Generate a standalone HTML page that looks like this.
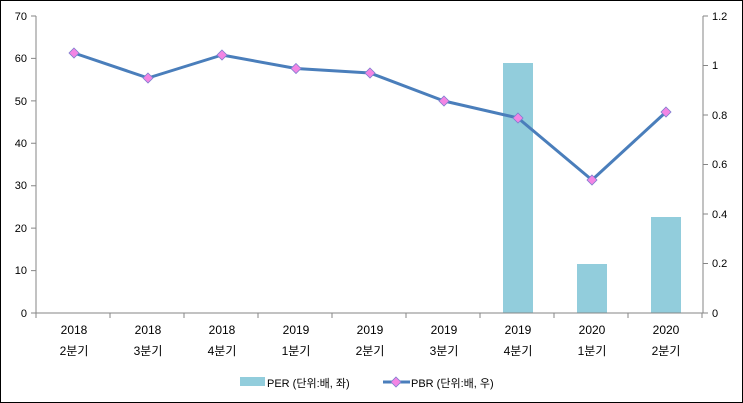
<!DOCTYPE html>
<html><head><meta charset="utf-8"><style>
html,body{margin:0;padding:0;background:#fff}
svg{display:block}
text{font-family:"Liberation Sans","Noto Sans CJK KR",sans-serif;fill:#000}
</style></head><body>
<svg width="743" height="403" viewBox="0 0 743 403">
<rect x="0.5" y="0.5" width="742" height="402" fill="#fff" stroke="#000"/>
<!-- bars -->
<rect x="503" y="63" width="30" height="250" fill="#92CDDC"/>
<rect x="577" y="264" width="30" height="49" fill="#92CDDC"/>
<rect x="651" y="217" width="30" height="96" fill="#92CDDC"/>
<!-- axes -->
<g stroke="#868686" stroke-width="1" fill="none">
<line x1="36" y1="16" x2="36" y2="313"/>
<line x1="703" y1="16" x2="703" y2="313"/>
<line x1="36" y1="313" x2="703" y2="313"/>
<path d="M31 16H36M31 58.4H36M31 100.9H36M31 143.3H36M31 185.7H36M31 228.1H36M31 270.6H36M31 313H36"/>
<path d="M703 16H708M703 65.5H708M703 115H708M703 164.5H708M703 214H708M703 263.5H708M703 313H708"/>
<path d="M36 313V318M110 313V318M184 313V318M258 313V318M332 313V318M406 313V318M480 313V318M554 313V318M628 313V318M702 313V318"/>
</g>
<g font-size="11" text-anchor="end">
<text x="27" y="20">70</text><text x="27" y="62">60</text><text x="27" y="105">50</text><text x="27" y="147">40</text><text x="27" y="189">30</text><text x="27" y="232">20</text><text x="27" y="274">10</text><text x="27" y="317">0</text>
</g>
<g font-size="11">
<text x="712" y="20">1.2</text><text x="712" y="69">1</text><text x="712" y="119">0.8</text><text x="712" y="168">0.6</text><text x="712" y="218">0.4</text><text x="712" y="267">0.2</text><text x="712" y="317">0</text>
</g>
<g font-size="12" text-anchor="middle">
<text x="74" y="334">2018</text><text x="148" y="334">2018</text><text x="222" y="334">2018</text><text x="296" y="334">2019</text><text x="370" y="334">2019</text><text x="444" y="334">2019</text><text x="518" y="334">2019</text><text x="592" y="334">2020</text><text x="666" y="334">2020</text>
<text x="74" y="355">2분기</text><text x="148" y="355">3분기</text><text x="222" y="355">4분기</text><text x="296" y="355">1분기</text><text x="370" y="355">2분기</text><text x="444" y="355">3분기</text><text x="518" y="355">4분기</text><text x="592" y="355">1분기</text><text x="666" y="355">2분기</text>
</g>
<polyline points="74,53 148,78 222,55 296,68.5 370,73 444,101 518,118 592,180 666,112" fill="none" stroke="#4A7EBB" stroke-width="3" stroke-linejoin="round"/>
<g fill="#F385E4" stroke="#7E7ECF" stroke-width="0.8">
<path d="M74 48L79 53L74 58L69 53Z"/>
<path d="M148 73L153 78L148 83L143 78Z"/>
<path d="M222 50L227 55L222 60L217 55Z"/>
<path d="M296 63.5L301 68.5L296 73.5L291 68.5Z"/>
<path d="M370 68L375 73L370 78L365 73Z"/>
<path d="M444 96L449 101L444 106L439 101Z"/>
<path d="M518 113L523 118L518 123L513 118Z"/>
<path d="M592 175L597 180L592 185L587 180Z"/>
<path d="M666 107L671 112L666 117L661 112Z"/>
</g>
<!-- legend -->
<rect x="240" y="377" width="25" height="9" fill="#92CDDC"/>
<text x="267" y="387" font-size="11">PER (단위:배, 좌)</text>
<line x1="383" y1="382" x2="410" y2="382" stroke="#4A7EBB" stroke-width="3"/>
<path d="M396 377L401 382L396 387L391 382Z" fill="#F385E4" stroke="#7E7ECF" stroke-width="0.8"/>
<text x="411" y="387" font-size="11">PBR (단위:배, 우)</text>
</svg>
</body></html>
